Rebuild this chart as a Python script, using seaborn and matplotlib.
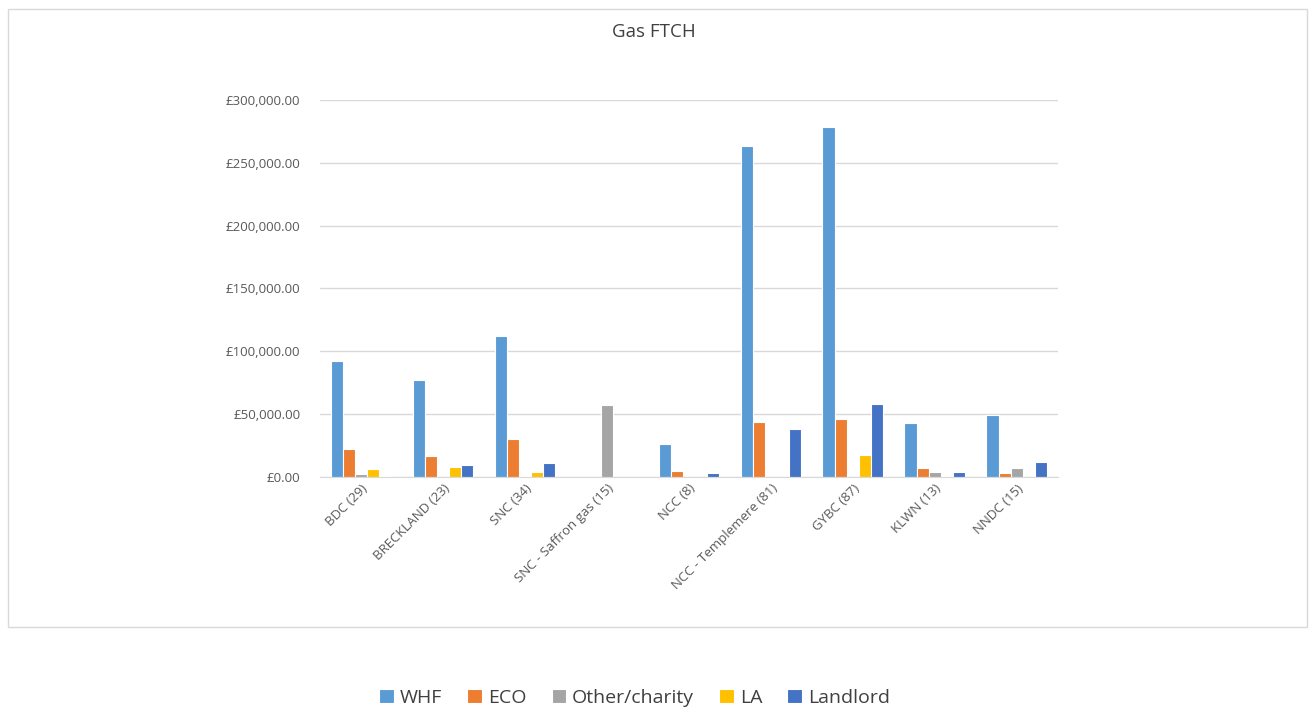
import pandas as pd
import numpy as np
import matplotlib
matplotlib.use("Agg")
import matplotlib.pyplot as plt
import seaborn as sns
from matplotlib.patches import Rectangle
from matplotlib.ticker import FuncFormatter

# Veri
categories = ["BDC (29)", "BRECKLAND (23)", "SNC (34)", "SNC - Saffron gas (15)", "NCC (8)",
              "NCC - Templemere (81)", "GYBC (87)", "KLWN (13)", "NNDC (15)"]
series = ["WHF", "ECO", "Other/charity", "LA", "Landlord"]
whf = [92300, 77200, 112200, 0, 26300, 263400, 278500, 43000, 49600]
eco = [22300, 16700, 30200, 0, 4500, 43500, 46400, 7200, 2900]
other = [2100, 0, 1000, 57000, 0, 0, 0, 4200, 6900]
la = [6600, 8000, 4000, 0, 0, 0, 17500, 1000, 0]
landlord = [800, 9800, 11400, 0, 3400, 38000, 58100, 4200, 12200]
colors = ["#5B9BD5", "#ED7D31", "#A5A5A5", "#FFC000", "#4472C4"]

df = pd.DataFrame({"Kategori": categories, "WHF": whf, "ECO": eco,
                   "Other/charity": other, "LA": la, "Landlord": landlord})
long_df = df.melt(id_vars="Kategori", var_name="Seri", value_name="Tutar")

sns.set_style("white")
plt.rcParams["font.family"] = ["Open Sans", "DejaVu Sans"]

fig = plt.figure(figsize=(13.14, 7.13), dpi=100)
ax = fig.add_axes([0.2435, 0.331, 0.5615, 0.529])

sns.barplot(data=long_df, x="Kategori", y="Tutar", hue="Seri", hue_order=series,
            palette=colors, saturation=1, width=0.74, edgecolor="white", linewidth=0.8,
            errorbar=None, ax=ax, legend=True)

ax.set_ylim(0, 300000)
ax.set_yticks(np.arange(0, 300001, 50000))
ax.yaxis.set_major_formatter(FuncFormatter(lambda v, p: f"£{v:,.2f}"))
ax.grid(axis="y", color="#D9D9D9", linewidth=1)
ax.set_axisbelow(True)
for s in ["top", "right", "left"]:
    ax.spines[s].set_visible(False)
ax.spines["bottom"].set_color("#D9D9D9")
ax.tick_params(axis="both", length=0, colors="#595959", labelsize=9.5)
ax.tick_params(axis="y", pad=14)
plt.setp(ax.get_xticklabels(), rotation=45, ha="right", rotation_mode="anchor")
ax.set_xlabel("")
ax.set_ylabel("")

fig.text(0.498, 0.955, "Gas FTCH", ha="center", va="center", fontsize=13.5, color="#404040")

# Grafik çerçevesi
fig.patches.append(Rectangle((0.006, 0.12), 0.989, 0.868, transform=fig.transFigure,
                             fill=False, edgecolor="#D9D9D9", linewidth=1))

handles, labels = ax.get_legend_handles_labels()
ax.get_legend().remove()
leg = fig.legend(handles, labels, loc="center", bbox_to_anchor=(0.483, 0.021), ncol=5,
                 frameon=False, fontsize=14, handlelength=0.75, handleheight=0.75,
                 handletextpad=0.3, columnspacing=1.3)
for t in leg.get_texts():
    t.set_color("#404040")

fig.savefig("out.png", dpi=100)
